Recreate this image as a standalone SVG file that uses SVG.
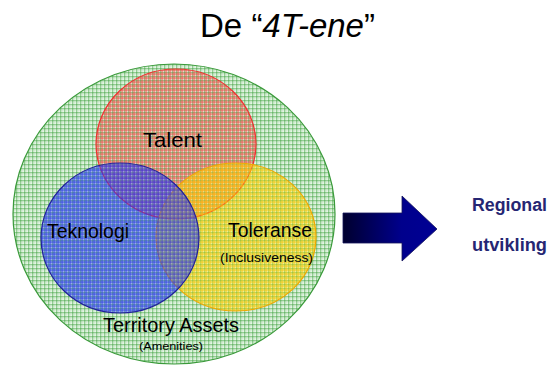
<svg xmlns="http://www.w3.org/2000/svg" width="548" height="367" viewBox="0 0 548 367">
  <style>
    .lbl { font-family: "Liberation Sans", Arial, sans-serif; fill: #000; }
    .out { font-family: "Liberation Sans", Arial, sans-serif; font-weight: bold; fill: #262673; font-size: 17.5px; }
  </style>
  <defs>
    <!-- plaid fills: thin crossing lines over a pale ground -->
    <pattern id="plaid-g" width="4" height="4" patternUnits="userSpaceOnUse">
      <rect width="4" height="4" fill="#f4fbf4"/>
      <rect x="0" y="0" width="1.4" height="4" fill="#46a646" opacity="0.55"/>
      <rect x="0" y="0" width="4" height="1.4" fill="#46a646" opacity="0.55"/>
      <rect x="2.5" y="0" width="0.7" height="4" fill="#8acb8a" opacity="0.35"/>
      <rect x="0" y="2.5" width="4" height="0.7" fill="#8acb8a" opacity="0.35"/>
    </pattern>
    <pattern id="plaid-r" width="4" height="4" patternUnits="userSpaceOnUse">
      <rect width="4" height="4" fill="#ff4848" opacity="0.2"/>
      <rect x="1.5" y="0" width="1.2" height="4" fill="#ff2a2a" opacity="0.45"/>
      <rect x="0" y="1.5" width="4" height="1.2" fill="#ff2a2a" opacity="0.45"/>
    </pattern>
    <pattern id="plaid-b" width="4" height="4" patternUnits="userSpaceOnUse">
      <rect width="4" height="4" fill="#2a3cff" opacity="0.42"/>
      <rect x="1.5" y="0" width="1.2" height="4" fill="#1e2ee6" opacity="0.5"/>
      <rect x="0" y="1.5" width="4" height="1.2" fill="#1e2ee6" opacity="0.5"/>
    </pattern>
    <pattern id="plaid-y" width="4" height="4" patternUnits="userSpaceOnUse">
      <rect width="4" height="4" fill="#ffe000" opacity="0.38"/>
      <rect x="1.5" y="0" width="1.2" height="4" fill="#ffc400" opacity="0.5"/>
      <rect x="0" y="1.5" width="4" height="1.2" fill="#ffc400" opacity="0.5"/>
    </pattern>
    <linearGradient id="arrowFill" gradientUnits="userSpaceOnUse" x1="343" y1="0" x2="437" y2="0">
      <stop offset="0" stop-color="#00002e"/>
      <stop offset="0.62" stop-color="#00008c"/>
      <stop offset="1" stop-color="#000094"/>
    </linearGradient>
  </defs>

  <text id="title" class="lbl" x="200" y="37" font-size="33" textLength="175" lengthAdjust="spacingAndGlyphs">De “<tspan font-style="italic">4T-ene</tspan>”</text>

  <g id="territory">
    <ellipse cx="174" cy="214" rx="161" ry="150" fill="url(#plaid-g)" stroke="#3a9a3a" stroke-width="1.2"/>
  </g>
  <g id="talent">
    <ellipse cx="176" cy="144" rx="80" ry="75" fill="url(#plaid-r)" stroke="#f03030" stroke-width="1.2"/>
  </g>
  <g id="toleranse">
    <ellipse cx="236" cy="237" rx="80" ry="74" fill="url(#plaid-y)" stroke="#f0a800" stroke-width="1.2"/>
  </g>
  <g id="teknologi">
    <ellipse cx="120" cy="238" rx="79" ry="75" fill="url(#plaid-b)" stroke="#20209a" stroke-width="1.2"/>
  </g>

  <g id="labels">
    <text class="lbl" x="143" y="147" font-size="21" textLength="59" lengthAdjust="spacingAndGlyphs">Talent</text>
    <text class="lbl" x="47" y="238" font-size="20" textLength="82" lengthAdjust="spacingAndGlyphs">Teknologi</text>
    <text class="lbl" x="228" y="237" font-size="20" textLength="84" lengthAdjust="spacingAndGlyphs">Toleranse</text>
    <text class="lbl" x="220" y="262" font-size="13" textLength="93" lengthAdjust="spacingAndGlyphs">(Inclusiveness)</text>
    <text class="lbl" x="103" y="332" font-size="20" textLength="136" lengthAdjust="spacingAndGlyphs">Territory Assets</text>
    <text class="lbl" x="139" y="350" font-size="11" textLength="64" lengthAdjust="spacingAndGlyphs">(Amenities)</text>
  </g>

  <g id="connectors">
    <polygon points="343,213 402,213 402,196 437,229 402,261 402,243 343,243" fill="url(#arrowFill)" stroke="#14145a" stroke-width="0.8"/>
  </g>

  <g id="regional">
    <text class="out" x="472" y="211" textLength="75" lengthAdjust="spacingAndGlyphs">Regional</text>
    <text class="out" x="472" y="251" textLength="75" lengthAdjust="spacingAndGlyphs">utvikling</text>
  </g>
</svg>
